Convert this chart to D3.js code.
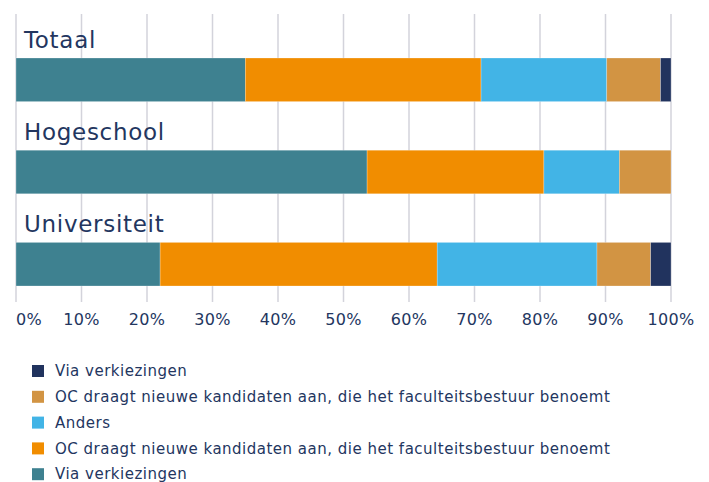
<!DOCTYPE html>
<html>
<head>
<meta charset="utf-8">
<script src="https://cdn.jsdelivr.net/npm/d3@7"></script>
<style>
  body { margin: 0; background: #fff; }
  svg { display: block; font-family: 'DejaVu Sans', sans-serif; }
</style>
</head>
<body>
<div id="chart"></div>
<script>
const categories = ['Totaal', 'Hogeschool', 'Universiteit'];
const seriesNames = [
  'Via verkiezingen',
  'OC draagt nieuwe kandidaten aan, die het faculteitsbestuur benoemt',
  'Anders',
  'OC draagt nieuwe kandidaten aan, die het faculteitsbestuur benoemt',
  'Via verkiezingen'
];
const seriesColors = ['#3e8190', '#f18d00', '#42b4e6', '#d29443', '#21335e'];
// percent per series, per category (Totaal, Hogeschool, Universiteit)
const teal = [35.0, 53.6, 22.0];
const orange = [36.0, 27.0, 42.3];
const lightBlue = [19.2, 11.5, 24.4];
const tan = [8.2, 7.9, 8.2];
const navy = [1.6, 0, 3.1];
const tickValues = [0, 10, 20, 30, 40, 50, 60, 70, 80, 90, 100];

const width = 709, height = 482;
const textColor = '#23365f';

const svg = d3.select('#chart').append('svg')
  .attr('width', width)
  .attr('height', height);

const x = d3.scaleLinear().domain([0, 100]).range([16, 671]);
const y = d3.scaleBand().domain(categories).range([58, 286]).paddingInner(0.527);

const allSeries = [teal, orange, lightBlue, tan, navy];
const rows = categories.map((c, i) => {
  const row = { cat: c };
  allSeries.forEach((s, k) => { row['s' + k] = s[i]; });
  return row;
});
const keys = allSeries.map((s, k) => 's' + k);
const stacked = d3.stack().keys(keys)(rows);

// Gridlines
svg.append('g')
  .selectAll('line')
  .data(tickValues)
  .enter()
  .append('line')
  .attr('x1', (d) => x(d))
  .attr('x2', (d) => x(d))
  .attr('y1', 14)
  .attr('y2', 302)
  .attr('stroke', '#d3d3db')
  .attr('stroke-width', 1.5);

// Bars
svg.append('g')
  .selectAll('g')
  .data(stacked)
  .enter()
  .append('g')
  .attr('fill', (d, i) => seriesColors[i])
  .selectAll('rect')
  .data((d) => d)
  .enter()
  .append('rect')
  .attr('x', (d) => x(d[0]))
  .attr('width', (d) => x(d[1]) - x(d[0]))
  .attr('y', (d) => y(d.data.cat))
  .attr('height', y.bandwidth())
  .attr('stroke', 'rgba(255,255,255,0.5)')
  .attr('stroke-width', 0.5);

// Category labels
svg.append('g')
  .selectAll('text')
  .data(categories)
  .enter()
  .append('text')
  .attr('x', 24)
  .attr('y', (d) => y(d) - 10)
  .attr('font-size', '23px')
  .attr('letter-spacing', '0.7px')
  .attr('fill', textColor)
  .text((d) => d);

// Axis tick labels
svg.append('g')
  .selectAll('text')
  .data(tickValues)
  .enter()
  .append('text')
  .attr('x', (d) => x(d))
  .attr('y', 325)
  .attr('text-anchor', (d) => (d === 0 ? 'start' : 'middle'))
  .attr('font-size', '16px')
  .attr('letter-spacing', '0.3px')
  .attr('fill', textColor)
  .text((d) => d + '%');

// Legend (reverse order)
const legendItems = seriesNames.map((n, i) => ({ name: n, color: seriesColors[i] })).reverse();
const legend = svg.append('g')
  .selectAll('g')
  .data(legendItems)
  .enter()
  .append('g')
  .attr('transform', (d, i) => `translate(32,${371 + i * 25.8})`);

legend.append('rect')
  .attr('x', 0)
  .attr('y', -6)
  .attr('width', 12)
  .attr('height', 12)
  .attr('fill', (d) => d.color);

legend.append('text')
  .attr('x', 23)
  .attr('dy', '0.35em')
  .attr('font-size', '15px')
  .attr('letter-spacing', '0.5px')
  .attr('fill', textColor)
  .text((d) => d.name);
</script>
</body>
</html>
